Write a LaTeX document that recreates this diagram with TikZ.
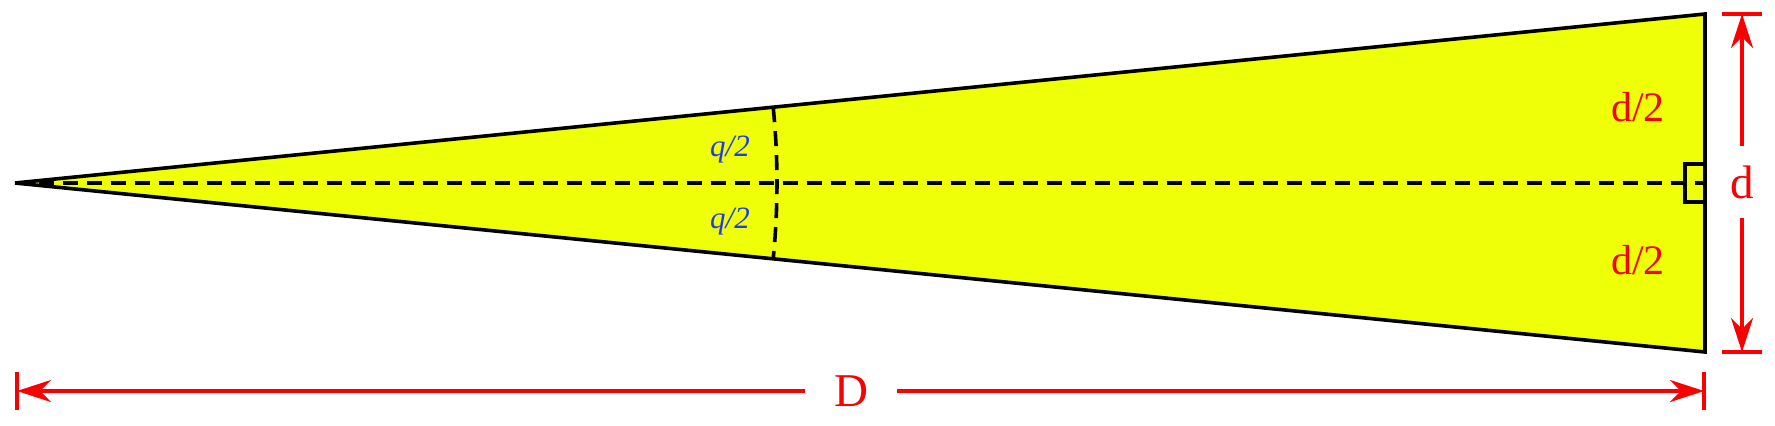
\documentclass[tikz,border=0pt]{standalone}
\usepackage{fontspec}
\setmainfont{Liberation Serif}
\usetikzlibrary{arrows.meta,positioning}
\definecolor{coneyellow}{RGB}{238,255,8}
\definecolor{dimred}{RGB}{250,0,0}
\definecolor{qblue}{RGB}{35,60,225}

\begin{document}
\begin{tikzpicture}
	[x=0.5pt,y=0.5pt,
	outline/.style={draw=black,line width=1.8pt,line join=miter},
	axis/.style={draw=black,line width=1.8pt,dash pattern=on 7.5pt off 4.5pt},
	dim/.style={draw=dimred,line width=1.7pt},
	dimarrow/.style={dim,-{Stealth[length=17pt,width=11pt,inset=5.5pt]}},
	dhalf/.style={text=dimred,font=\fontsize{21}{24}\selectfont,inner sep=0pt},
	qlabel/.style={text=qblue,font=\fontsize{15.5}{18}\selectfont\itshape,inner sep=0pt},
	dimlabel/.style={text=dimred,font=\fontsize{23.5}{27}\selectfont,inner sep=0pt}]
	\useasboundingbox (0,0) rectangle (1775,425);

	\coordinate (apex) at (15,242);
	\coordinate (top) at (1705,411);
	\coordinate (bot) at (1705,73);
	\coordinate (mid) at (1705,242);

	% cone
	\fill [coneyellow] (apex) -- (top) -- (bot) -- cycle;
	\draw [axis] (apex) -- (mid);
	\draw [axis] (apex) ++(5.71:762) arc [start angle=5.71, end angle=-5.71, radius=762];
	\draw [outline] (mid) ++(-20,-19) rectangle ++(20,38);
	\draw [outline] (apex) -- (top) -- (bot) -- cycle;

	\node [dhalf] (dtop) at (1638,318) {d/2};
	\node [dhalf] (dbot) at (1638,165) {d/2};
	\node [qlabel] (qtop) at (730,275) {q/2};
	\node [qlabel] (qbot) at (730,203) {q/2};

	% dimension d
	\coordinate (rtop) at (1742,411);
	\coordinate (rbot) at (1742,73);
	\draw [dim] (rtop) ++(-20,0) -- ++(40,0);
	\draw [dim] (rbot) ++(-20,0) -- ++(40,0);
	\node [dimlabel,minimum height=36pt] (dlab) at (1742,243) {d};
	\draw [dimarrow] (dlab.north) -- (rtop);
	\draw [dimarrow] (dlab.south) -- (rbot);

	% dimension D
	\coordinate (lend) at (17,34);
	\coordinate (rend) at (1704,34);
	\draw [dim] (lend) ++(0,-19) -- ++(0,38);
	\draw [dim] (rend) ++(0,-19) -- ++(0,38);
	\node [dimlabel,minimum width=46pt] (Dlab) at (851,34) {D};
	\draw [dimarrow] (Dlab.west) -- (lend);
	\draw [dimarrow] (Dlab.east) -- (rend);
\end{tikzpicture}
\end{document}
